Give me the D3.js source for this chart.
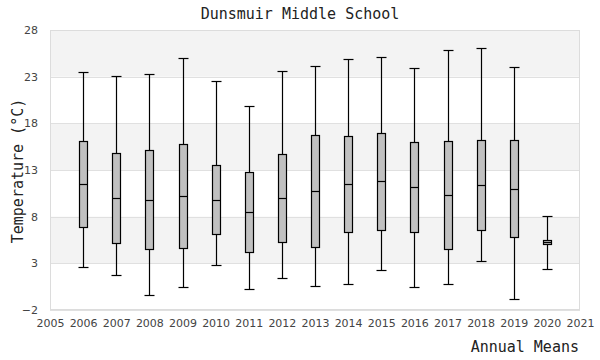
<!DOCTYPE html>
<html>
<head>
<meta charset="utf-8">
<script src="https://cdn.jsdelivr.net/npm/d3@7"></script>
<style>
  html, body { margin: 0; padding: 0; background: #fff; }
  svg { display: block; }
</style>
</head>
<body>
<div id="chart"></div>
<script>
const years      = [2006, 2007, 2008, 2009, 2010, 2011, 2012, 2013, 2014, 2015, 2016, 2017, 2018, 2019, 2020];
const maxVals    = [23.47, 23.04, 23.25, 24.96, 22.5, 19.82, 23.57, 24.11, 24.86, 25.07, 23.89, 25.82, 26.04, 24.0, 8.04];
const q3Vals     = [16.07, 14.79, 15.11, 15.75, 13.5, 12.75, 14.68, 16.71, 16.61, 16.93, 15.96, 16.07, 16.21, 16.21, 5.46];
const medianVals = [11.46, 10.0, 9.75, 10.18, 9.75, 8.46, 10.0, 10.71, 11.46, 11.79, 11.14, 10.29, 11.36, 10.93, 5.25];
const q1Vals     = [6.86, 5.14, 4.5, 4.61, 6.11, 4.18, 5.25, 4.71, 6.32, 6.54, 6.32, 4.5, 6.54, 5.79, 5.04];
const minVals    = [2.57, 1.71, -0.43, 0.43, 2.79, 0.21, 1.39, 0.54, 0.75, 2.25, 0.43, 0.75, 3.21, -0.82, 2.36];
const yTicks     = [-2, 3, 8, 13, 18, 23, 28];
const xTicks     = [2005, 2006, 2007, 2008, 2009, 2010, 2011, 2012, 2013, 2014, 2015, 2016, 2017, 2018, 2019, 2020, 2021];
const titleText  = "Dunsmuir Middle School";
const yLabelText = "Temperature (°C)";
const xLabelText = "Annual Means";

(function () {
const W = 600, H = 360;
const mLeft = 50, mRight = 580, mTop = 30, mBottom = 310;

const svg = d3.select("#chart").append("svg").attr("width", W).attr("height", H);

const x = d3.scaleLinear().domain([2005, 2021]).range([mLeft, mRight]);
const y = d3.scaleLinear().domain([-2, 28]).range([mBottom, mTop]);

const data = years.map((yr, i) => ({
  year: yr, max: maxVals[i], q3: q3Vals[i], med: medianVals[i], q1: q1Vals[i], min: minVals[i]
}));

// background bands
const bands = [];
for (let i = 0; i < yTicks.length - 1; i++) {
  if (i % 2 === 1) bands.push([yTicks[i], yTicks[i + 1]]);
}
svg.append("g").selectAll("rect").data(bands).join("rect")
  .attr("x", mLeft).attr("width", mRight - mLeft)
  .attr("y", d => y(d[1])).attr("height", d => y(d[0]) - y(d[1]))
  .attr("fill", "#f3f3f3");

// grid lines
svg.append("g").selectAll("line").data(yTicks).join("line")
  .attr("x1", mLeft).attr("x2", mRight)
  .attr("y1", d => Math.round(y(d)) + 0.5).attr("y2", d => Math.round(y(d)) + 0.5)
  .attr("stroke", "#e0e0e0").attr("stroke-width", 1);

// plot border
svg.append("rect")
  .attr("x", mLeft + 0.5).attr("y", mTop + 0.5)
  .attr("width", mRight - mLeft - 1).attr("height", mBottom - mTop - 1)
  .attr("fill", "none").attr("stroke", "#dcdcdc");

// axes
const yAxis = d3.axisLeft(y).tickValues(yTicks).tickSize(0).tickPadding(12).tickFormat(d3.format("d"));
const gy = svg.append("g").attr("transform", `translate(${mLeft},0)`).call(yAxis);
gy.select(".domain").remove();
gy.selectAll("text").attr("font-family", "DejaVu Sans, sans-serif").attr("font-size", 11).attr("fill", "#444");

const xAxis = d3.axisBottom(x).tickValues(xTicks).tickSize(0).tickPadding(9).tickFormat(d3.format("d"));
const gx = svg.append("g").attr("transform", `translate(0,${mBottom})`).call(xAxis);
gx.select(".domain").remove();
gx.selectAll("text").attr("font-family", "DejaVu Sans, sans-serif").attr("font-size", 11).attr("fill", "#444");

// box plots
const boxW = 8, capW = 9;
const g = svg.append("g").selectAll("g").data(data).join("g")
  .attr("transform", d => `translate(${Math.round(x(d.year)) + 0.5},0)`);

g.append("line")
  .attr("x1", 0).attr("x2", 0)
  .attr("y1", d => Math.round(y(d.max)) + 0.5).attr("y2", d => Math.round(y(d.min)) + 0.5)
  .attr("stroke", "#000").attr("stroke-width", 1.2);
g.append("line")
  .attr("x1", -capW / 2 - 0.5).attr("x2", capW / 2 + 0.5)
  .attr("y1", d => Math.round(y(d.max)) + 0.5).attr("y2", d => Math.round(y(d.max)) + 0.5)
  .attr("stroke", "#000").attr("stroke-width", 1.2);
g.append("line")
  .attr("x1", -capW / 2 - 0.5).attr("x2", capW / 2 + 0.5)
  .attr("y1", d => Math.round(y(d.min)) + 0.5).attr("y2", d => Math.round(y(d.min)) + 0.5)
  .attr("stroke", "#000").attr("stroke-width", 1.2);
g.append("rect")
  .attr("x", -boxW / 2).attr("width", boxW)
  .attr("y", d => Math.round(y(d.q3)) + 0.5)
  .attr("height", d => Math.round(y(d.q1)) - Math.round(y(d.q3)))
  .attr("fill", "#c0c0c0").attr("stroke", "#000").attr("stroke-width", 1.2);
g.append("line")
  .attr("x1", -boxW / 2).attr("x2", boxW / 2)
  .attr("y1", d => Math.round(y(d.med)) + 0.5).attr("y2", d => Math.round(y(d.med)) + 0.5)
  .attr("stroke", "#000").attr("stroke-width", 1.2);

// titles
const mono = "DejaVu Sans Mono, monospace";
svg.append("text").attr("x", 300).attr("y", 19).attr("text-anchor", "middle")
  .attr("font-family", mono).attr("font-size", 15).attr("fill", "#222").text(titleText);
svg.append("text").attr("transform", "translate(23,171) rotate(-90)").attr("text-anchor", "middle")
  .attr("font-family", mono).attr("font-size", 15).attr("fill", "#222").text(yLabelText);
svg.append("text").attr("x", 579).attr("y", 352).attr("text-anchor", "end")
  .attr("font-family", mono).attr("font-size", 15).attr("fill", "#222").text(xLabelText);
})();
</script>
</body>
</html>
